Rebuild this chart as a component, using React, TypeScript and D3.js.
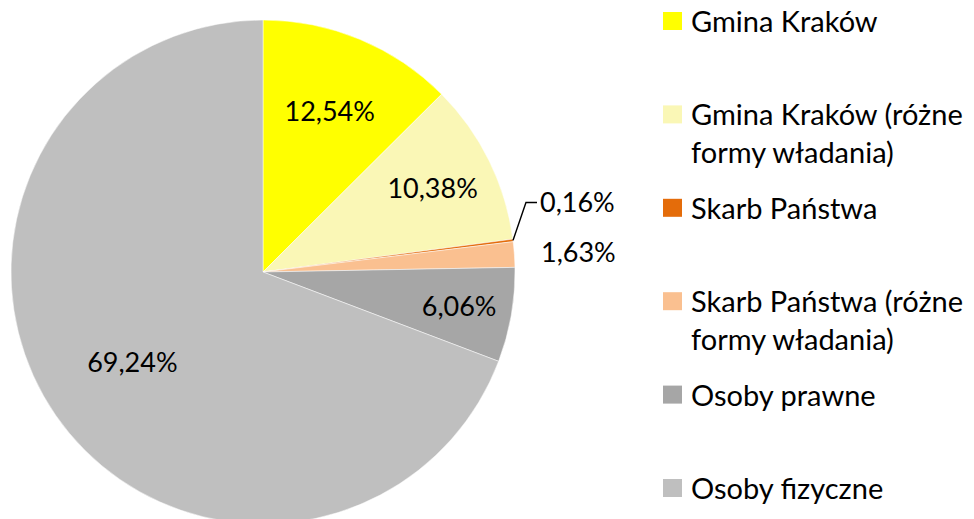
import * as d3 from "d3";

// udział form własności (%)
const categories = [
  "Gmina Kraków",
  "Gmina Kraków (różne formy władania)",
  "Skarb Państwa",
  "Skarb Państwa (różne formy władania)",
  "Osoby prawne",
  "Osoby fizyczne",
];
const legendLines = [
  ["Gmina Kraków"],
  ["Gmina Kraków (różne", "formy władania)"],
  ["Skarb Państwa"],
  ["Skarb Państwa (różne", "formy władania)"],
  ["Osoby prawne"],
  ["Osoby fizyczne"],
];
const values = [12.54, 10.38, 0.16, 1.63, 6.06, 69.24];
const colors = ["#FFFF00", "#FAF7B6", "#E46C0A", "#FAC090", "#A6A6A6", "#BFBFBF"];

const width = 974;
const height = 519;
const cx = 263;
const cy = 272;
const R = 252;
const font = "Lato, 'Open Sans', sans-serif";

// label distance from centre as fraction of radius (Excel best-fit look)
const labelRadius = [0.69, 0.75, 1.25, 1.22, 0.79, 0.63];

export default function App() {
  const pie = d3
    .pie<number>()
    .sort(null)
    .value((d) => d);
  const arcs = pie(values);
  const arc = d3.arc<d3.PieArcDatum<number>>().innerRadius(0).outerRadius(R);

  const fmt = (v: number) => v.toFixed(2).replace(".", ",") + "%";

  const legendY = d3
    .scaleLinear()
    .domain([0, categories.length - 1])
    .range([21, 488]);

  return (
    <div style={{ position: "absolute", left: 0, top: 0 }}>
      <svg width={width} height={height} style={{ display: "block" }}>
        <rect width={width} height={height} fill="#fff" />
        <g transform={`translate(${cx},${cy})`}>
          {arcs.map((a, i) => (
            <path key={i} d={arc(a)!} fill={colors[i]} stroke="#fff" strokeWidth={0.5} />
          ))}
          {arcs.map((a, i) => {
            const mid = (a.startAngle + a.endAngle) / 2;
            const r = R * labelRadius[i];
            const x = r * Math.sin(mid);
            const y = -r * Math.cos(mid);
            if (i === 2) {
              // etykieta z linią odniesienia
              const ex = R * Math.sin(mid);
              const ey = -R * Math.cos(mid);
              const kx = ex + 13;
              const ky = ey - 38;
              return (
                <g key={i}>
                  <polyline
                    points={`${ex},${ey} ${kx},${ky} ${kx + 11},${ky}`}
                    fill="none"
                    stroke="#000"
                    strokeWidth={1.5}
                  />
                  <text
                    x={kx + 14}
                    y={ky}
                    dy="0.35em"
                    fontFamily={font}
                    fontSize={27}
                    fill="#000"
                  >
                    {fmt(values[i])}
                  </text>
                </g>
              );
            }
            if (i === 3) {
              return (
                <text
                  key={i}
                  x={R + 26}
                  y={y + 2}
                  dy="0.35em"
                  fontFamily={font}
                  fontSize={27}
                  fill="#000"
                >
                  {fmt(values[i])}
                </text>
              );
            }
            return (
              <text
                key={i}
                x={x}
                y={y}
                dy="0.35em"
                textAnchor="middle"
                fontFamily={font}
                fontSize={27}
                fill="#000"
              >
                {fmt(values[i])}
              </text>
            );
          })}
        </g>
        <g>
          {categories.map((c, i) => (
            <g key={c} transform={`translate(663,${legendY(i)})`}>
              <rect x={0} y={-9} width={19} height={18} fill={colors[i]} />
              {legendLines[i].map((line, j) => (
                <text
                  key={j}
                  x={28}
                  y={11 + j * 38}
                  fontFamily={font}
                  fontSize={29}
                  fill="#000"
                >
                  {line}
                </text>
              ))}
            </g>
          ))}
        </g>
      </svg>
    </div>
  );
}
